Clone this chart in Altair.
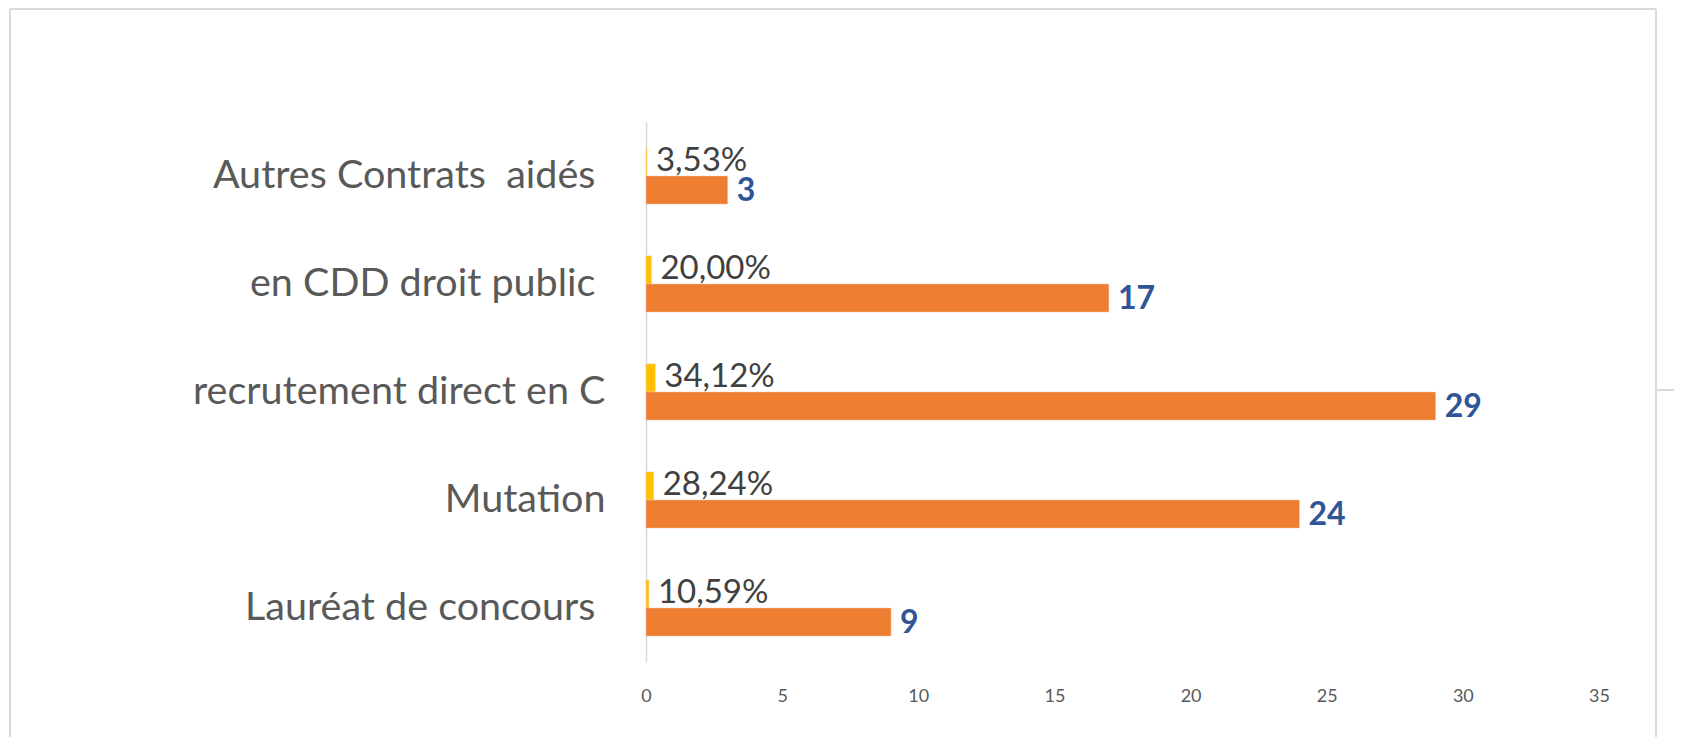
import altair as alt
import pandas as pd

categories = [
    "Autres Contrats \u00a0aidés\u00a0\u200b",
    "en CDD droit public\u00a0\u200b",
    "recrutement direct en C",
    "Mutation",
    "Lauréat de concours\u00a0\u200b",
]
pct_values = [0.0353, 0.2000, 0.3412, 0.2824, 0.1059]
count_values = [3, 17, 29, 24, 9]
x_ticks = [0, 5, 10, 15, 20, 25, 30, 35]

rows = []
for c, p, n in zip(categories, pct_values, count_values):
    rows.append({"cat": c, "series": "pct", "value": p,
                 "label": f"{p*100:.2f}%".replace(".", ",")})
    rows.append({"cat": c, "series": "count", "value": n, "label": str(n)})
df = pd.DataFrame(rows)

FONT = "Lato"
W, H = 953, 540

y_enc = alt.Y("cat:N", sort=categories, title=None,
              scale=alt.Scale(paddingInner=0.48, paddingOuter=0.24),
              axis=alt.Axis(labelFontSize=39.5, labelColor="#595959", labelFont=FONT,
                            labelPadding=41, ticks=False, grid=False,
                            domainColor="#D9D9D9", domainWidth=1.5, labelLimit=700))
yoff = alt.YOffset("series:N", sort=["pct", "count"])
x_enc = alt.X("value:Q", title=None,
              scale=alt.Scale(domain=[0, 35], nice=False),
              axis=alt.Axis(values=x_ticks, grid=False, domain=False, ticks=False,
                            labelFontSize=18, labelColor="#595959", labelFont=FONT,
                            labelPadding=25, labelFlush=False))

base = alt.Chart(df)

bars = base.mark_bar(stroke="#F8CBAD", strokeWidth=0.5).encode(
    y=y_enc, yOffset=yoff, x=x_enc,
    color=alt.Color("series:N", legend=None,
                    scale=alt.Scale(domain=["pct", "count"], range=["#FFC000", "#ED7D31"])),
)

pct_text = base.transform_filter(alt.datum.series == "pct").mark_text(
    align="left", baseline="middle", dx=9, dy=-1, font=FONT, fontSize=33, color="#404040"
).encode(y=y_enc, yOffset=yoff, x=x_enc, text="label:N")

cnt_text = base.transform_filter(alt.datum.series == "count").mark_text(
    align="left", baseline="middle", dx=9, dy=1, font=FONT, fontSize=32, fontWeight="bold",
    color="#2F5597"
).encode(y=y_enc, yOffset=yoff, x=x_enc, text="label:N")

frame_style = dict(color="#D9D9D9", strokeWidth=2)
frame_left = alt.Chart(df).mark_rule(**frame_style).encode(
    x=alt.value(-636), y=alt.value(-113), y2=alt.value(640))
frame_top = alt.Chart(df).mark_rule(**frame_style).encode(
    x=alt.value(-636), x2=alt.value(1010), y=alt.value(-113))
frame_right = alt.Chart(df).mark_rule(**frame_style).encode(
    x=alt.value(1010), y=alt.value(-113), y2=alt.value(640))
frame_side = alt.Chart(df).mark_rule(**frame_style).encode(
    x=alt.value(1010), x2=alt.value(1040), y=alt.value(268))

chart = alt.layer(frame_left, frame_top, frame_right, frame_side,
                  bars, pct_text, cnt_text).properties(
    width=W, height=H,
    background="white",
    autosize=alt.AutoSizeParams(type="none"),
    padding={"left": 638, "top": 114, "right": 75, "bottom": 75},
).configure_view(stroke=None, strokeWidth=0)

chart.save("out.html", embed_options={"renderer": "svg", "actions": False})
